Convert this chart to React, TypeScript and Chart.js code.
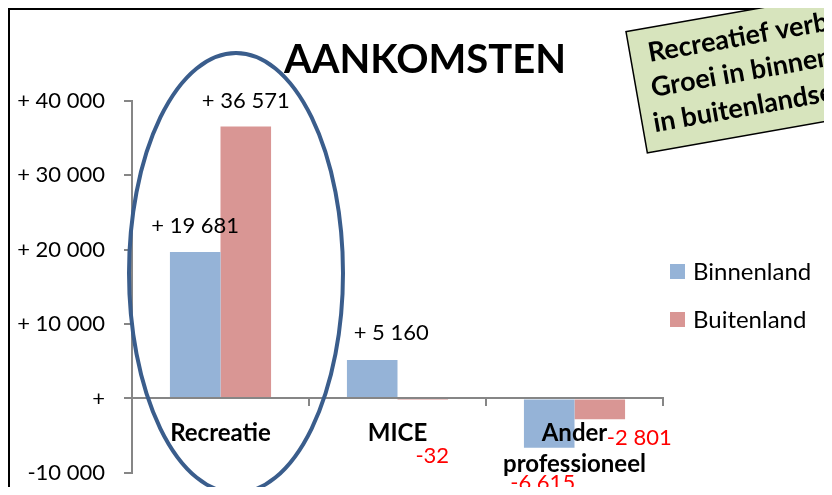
import React, { useEffect, useRef } from "react";
import { Chart, registerables } from "chart.js";

Chart.register(...registerables);

// ---- data ----
const categoryLabels: (string | string[])[] = ["Recreatie", "MICE", ["Ander", "professioneel"]];
const seriesNames = ["Binnenland", "Buitenland"];
const binnenland = [19681, 5160, -6615];
const buitenland = [36571, -32, -2801];
const yTickValues = [-10000, 0, 10000, 20000, 30000, 40000];
const titleText = "AANKOMSTEN";
const calloutLines = ["Recreatief verblijf:", "Groei in binnenlandse", "in buitenlandse markt"];

// ---- styles / layout ----
const W = 824;
const H = 487; // visible height
const CANVAS_H = 497; // canvas extends a little below the visible area
const FONT = "Lato, 'Open Sans', sans-serif";
const seriesColors = ["#95b3d7", "#d99694"];
const axisColor = "#868686";
// label offsets (dx, dy) from the bar end, per series, per category
const labelOffsets = [
  [[0, -26], [19, -27], [-6.5, 35]],
  [[0, -26], [9.5, 57], [39.5, 19]],
];
const ellipseStyle = { cx: 228, cy: 265, rx: 107, ry: 220, color: "#3a5d8c", width: 4 };
const calloutStyle = {
  x: 618, y: 23.7, angle: -10, w: 340, h: 123, fill: "#d7e4bd",
  lineX: [18, 15, 11], lineY: [34, 69, 104], font: "bold 27px " + FONT,
};

function fmt(v: number): string {
  const a = Math.abs(v).toString().replace(/\B(?=(\d{3})+(?!\d))/g, " ");
  if (v > 0) return "+ " + a;
  if (v < 0) return "-" + a;
  return "+";
}

const decorPlugin = {
  id: "decor",
  beforeDraw(chart: any) {
    const ctx = chart.ctx;
    ctx.save();
    ctx.fillStyle = "#ffffff";
    ctx.fillRect(0, 0, W, CANVAS_H);
    ctx.fillStyle = "#000000";
    ctx.fillRect(0, 0, 2, CANVAS_H);
    ctx.fillRect(0, 0, W, 2);
    ctx.restore();
  },
  afterDatasetsDraw(chart: any) {
    const ctx = chart.ctx;
    ctx.save();
    ctx.font = "22px " + FONT;
    ctx.textAlign = "center";
    ctx.textBaseline = "middle";
    chart.data.datasets.forEach((ds: any, i: number) => {
      const meta = chart.getDatasetMeta(i);
      meta.data.forEach((el: any, j: number) => {
        const v = ds.data[j] as number;
        const [dx, dy] = labelOffsets[i][j];
        ctx.fillStyle = v < 0 ? "#ff0000" : "#000000";
        ctx.fillText(fmt(v), el.x + dx, el.y + dy);
      });
    });
    ctx.restore();
  },
  afterDraw(chart: any) {
    const ctx = chart.ctx;
    ctx.save();
    // title
    ctx.fillStyle = "#000";
    ctx.font = "bold 40px " + FONT;
    ctx.textAlign = "center";
    ctx.textBaseline = "alphabetic";
    ctx.fillText(titleText, 417, 65);

    // legend
    ctx.font = "24px " + FONT;
    ctx.textAlign = "left";
    ctx.textBaseline = "middle";
    seriesNames.forEach((name, i) => {
      const y = 264 + i * 48;
      ctx.fillStyle = seriesColors[i];
      ctx.fillRect(662, y - 8, 15, 15);
      ctx.fillStyle = "#000";
      ctx.fillText(name, 685, y);
    });

    // ellipse
    ctx.beginPath();
    ctx.ellipse(ellipseStyle.cx, ellipseStyle.cy, ellipseStyle.rx, ellipseStyle.ry, 0, 0, Math.PI * 2);
    ctx.strokeStyle = ellipseStyle.color;
    ctx.lineWidth = ellipseStyle.width;
    ctx.stroke();

    // callout
    const c = calloutStyle;
    ctx.translate(c.x, c.y);
    ctx.rotate((c.angle * Math.PI) / 180);
    ctx.fillStyle = c.fill;
    ctx.fillRect(0, 0, c.w, c.h);
    ctx.strokeStyle = "#000";
    ctx.lineWidth = 1.5;
    ctx.strokeRect(0, 0, c.w, c.h);
    ctx.fillStyle = "#000";
    ctx.font = c.font;
    ctx.textAlign = "left";
    ctx.textBaseline = "alphabetic";
    calloutLines.forEach((line, i) => ctx.fillText(line, c.lineX[i], c.lineY[i]));
    ctx.restore();
  },
};

export default function App() {
  const ref = useRef<HTMLCanvasElement>(null);
  useEffect(() => {
    document.documentElement.style.overflow = "hidden";
    const chart = new Chart(ref.current as HTMLCanvasElement, {
      type: "bar",
      data: {
        labels: categoryLabels as any,
        datasets: [
          { label: seriesNames[0], data: binnenland, backgroundColor: seriesColors[0], categoryPercentage: 0.5714, barPercentage: 1 },
          { label: seriesNames[1], data: buitenland, backgroundColor: seriesColors[1], categoryPercentage: 0.5714, barPercentage: 1 },
        ],
      },
      options: {
        animation: false,
        responsive: false,
        devicePixelRatio: 1,
        layout: { padding: { left: 0, top: 93, right: 169, bottom: 13 } },
        plugins: {
          legend: { display: false },
          title: { display: false },
          tooltip: { enabled: false },
        },
        scales: {
          x: {
            position: { y: 0 } as any,
            offset: true,
            grid: { display: true, drawOnChartArea: false, drawTicks: true, tickLength: 7, color: axisColor, lineWidth: 2, offset: true },
            border: { display: true, color: axisColor, width: 2, z: 1 },
            ticks: {
              z: 1,
              color: "#000",
              font: { family: FONT, size: 24, weight: "bold", lineHeight: 1.29 },
              padding: 12,
              maxRotation: 0,
              autoSkip: false,
            },
          },
          y: {
            min: -10000,
            max: 40000,
            afterBuildTicks: (s: any) => {
              s.ticks = yTickValues.map((v) => ({ value: v }));
            },
            afterFit: (s: any) => {
              s.width = 124;
            },
            grid: { drawOnChartArea: false, drawTicks: true, tickLength: 8, color: axisColor, lineWidth: 2 },
            border: { display: true, color: axisColor, width: 2 },
            ticks: {
              color: "#000",
              font: { family: FONT, size: 22 },
              padding: 19,
              callback: (v: any) => fmt(Number(v)),
            },
          },
        },
      },
      plugins: [decorPlugin],
    });
    return () => chart.destroy();
  }, []);
  return (
    <div style={{ width: W, height: H, position: "relative", overflow: "hidden", marginBottom: -8 }}>
      <canvas ref={ref} width={W} height={CANVAS_H} style={{ display: "block", width: W, height: CANVAS_H }} />
    </div>
  );
}
